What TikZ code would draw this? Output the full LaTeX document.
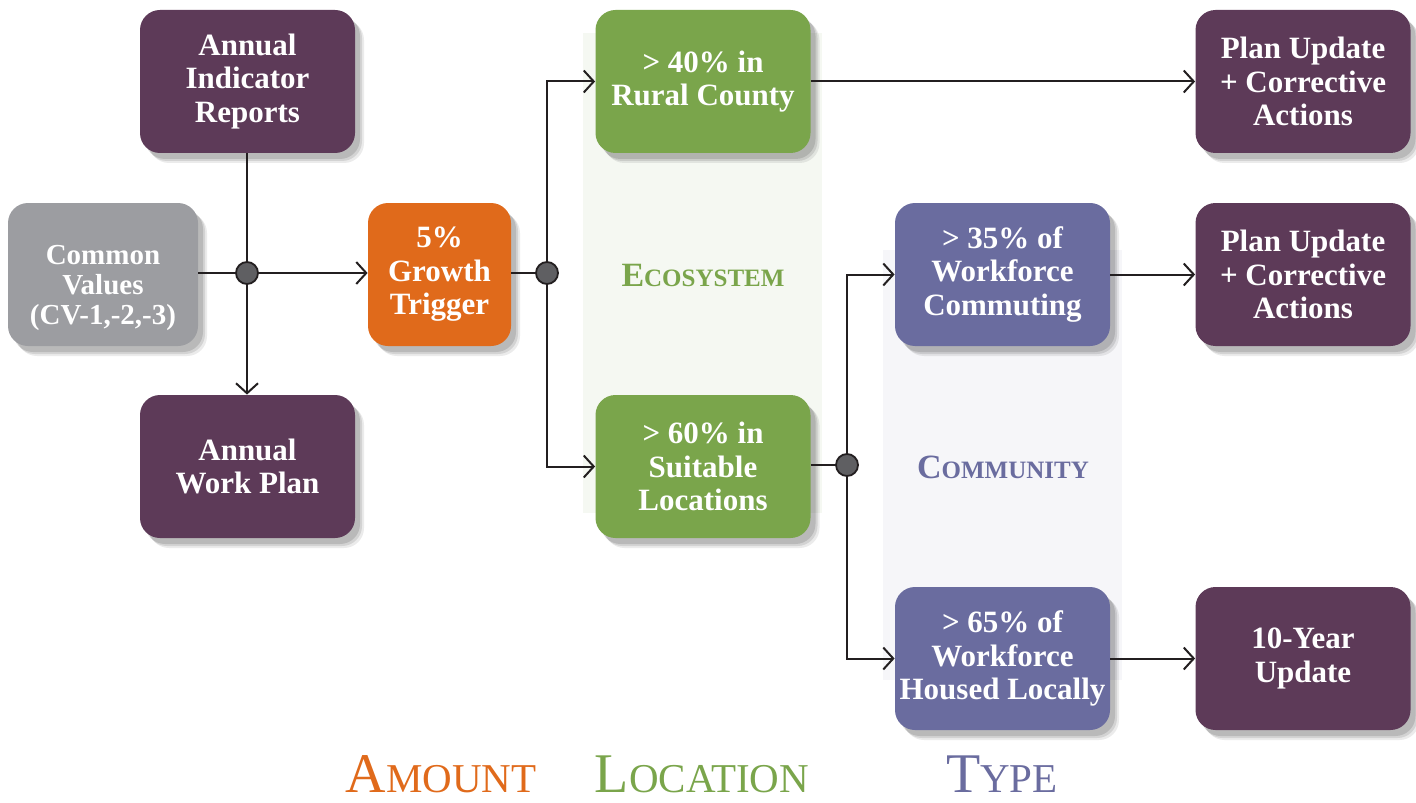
\documentclass[tikz,border=0pt]{standalone}
\usepackage{fontspec}
\setmainfont{Liberation Serif}
\usetikzlibrary{arrows.meta,shadows}
\definecolor{cpurple}{HTML}{5D3A58}
\definecolor{cgray}{HTML}{9C9DA1}
\definecolor{corange}{HTML}{E06A1B}
\definecolor{cgreen}{HTML}{7AA54B}
\definecolor{cblue}{HTML}{6A6C9F}
\definecolor{cdot}{HTML}{5F5F62}
\definecolor{cline}{HTML}{231F20}
\definecolor{bandgreen}{HTML}{F5F8F2}
\definecolor{bandblue}{HTML}{F6F6F9}
\newcommand\myfsc[4]{{\fontsize{#1}{#1}\selectfont #3}{\fontsize{#2}{#2}\selectfont #4}}
\tikzset{
  box/.style={rounded corners=10pt, minimum width=107.5pt, minimum height=71.5pt,
    text=white, align=center, inner sep=2pt,
    font=\fontsize{15.5}{16.7}\selectfont\bfseries,
    general shadow={shadow xshift=4.5pt, shadow yshift=-5pt, fill=black, opacity=0.08},
    general shadow={shadow xshift=3.5pt, shadow yshift=-4pt, fill=black, opacity=0.10},
    general shadow={shadow xshift=2.5pt, shadow yshift=-3pt, fill=black, opacity=0.12}},
  sqbox/.style={box, minimum width=71.5pt},
  cvbox/.style={box, minimum width=95pt},
  boxtext/.style={text=white, align=center, inner sep=0pt,
    font=\fontsize{14.5}{15.2}\selectfont\bfseries},
  conn/.style={draw=cline, line width=1pt},
  arr/.style={conn, -{Straight Barb[length=5pt,width=11pt,line width=1pt]}},
  jdot/.style={circle, fill=cdot, draw=cline, line width=0.9pt, minimum size=11pt, inner sep=0pt},
  bandlabel/.style={font=\bfseries},
  axislabel/.style={font=\mdseries, anchor=base, inner sep=0pt},
}
\begin{document}
\begin{tikzpicture}[x=0.5pt,y=-0.5pt]
\useasboundingbox (0,0) rectangle (1416,802);
% bands
\fill[bandgreen] (583,33) rectangle (822,513);
\fill[bandblue] (883,250) rectangle (1122,680);
\node[bandlabel, text=cgreen] (eco) at (703,275) {\myfsc{17}{12.5}{E}{COSYSTEM}};
\node[bandlabel, text=cblue] (com) at (1003,467) {\myfsc{17}{12.5}{C}{OMMUNITY}};
% nodes
\node[box, fill=cpurple] (air) at (247.5,81.5) {Annual\\Indicator\\Reports};
\node[cvbox, fill=cgray] (cv) at (103,274.5) {};
\node[boxtext] (cvtext) at (103,288) {Common\\Values\\(CV-1,-2,-3)};
\node[box, fill=cpurple] (awp) at (247.5,466.5) {Annual\\Work Plan};
\node[sqbox, fill=corange] (gt) at (439.5,274.5) {5\%\\Growth\\Trigger};
\node[box, fill=cgreen] (rc) at (703,81.5) {> 40\% in\\Rural County};
\node[box, fill=cgreen] (sl) at (703,466.5) {> 60\% in\\Suitable\\Locations};
\node[box, fill=cblue] (wc) at (1002.5,274.5) {> 35\% of\\Workforce\\Commuting};
\node[box, fill=cblue] (hl) at (1002.5,658.5) {> 65\% of\\Workforce\\Housed Locally};
\node[box, fill=cpurple] (pu1) at (1303,81.5) {Plan Update\\+ Corrective\\Actions};
\node[box, fill=cpurple] (pu2) at (1303,274.5) {Plan Update\\+ Corrective\\Actions};
\node[box, fill=cpurple] (ty) at (1303,658.5) {10-Year\\Update};
% junctions
\coordinate (j1) at (247,273);
\coordinate (j2) at (547,273);
\coordinate (j3) at (847,465);
% connectors
\draw[arr] (air.south -| j1) -- (awp.north -| j1);
\draw[arr] (cv.east |- j1) -- (gt.west |- j1);
\draw[conn] (gt.east |- j2) -- (j2);
\draw[arr] (j2) |- (rc.west);
\draw[arr] (j2) |- (sl.west);
\draw[conn] (sl.east |- j3) -- (j3);
\draw[arr] (j3) |- (wc.west);
\draw[arr] (j3) |- (hl.west);
\draw[arr] (rc.east) -- (pu1.west);
\draw[arr] (wc.east) -- (pu2.west);
\draw[arr] (hl.east) -- (ty.west);
\node[jdot] (d1) at (j1) {};
\node[jdot] (d2) at (j2) {};
\node[jdot] (d3) at (j3) {};
% axis labels
\node[axislabel, text=corange] (amt) at (441,792) {\myfsc{28}{20.5}{A}{MOUNT}};
\node[axislabel, text=cgreen] (loc) at (702,792) {\myfsc{28}{20.5}{L}{OCATION}};
\node[axislabel, text=cblue] (typ) at (1002,792) {\myfsc{28}{20.5}{T}{YPE}};
\end{tikzpicture}
\end{document}
